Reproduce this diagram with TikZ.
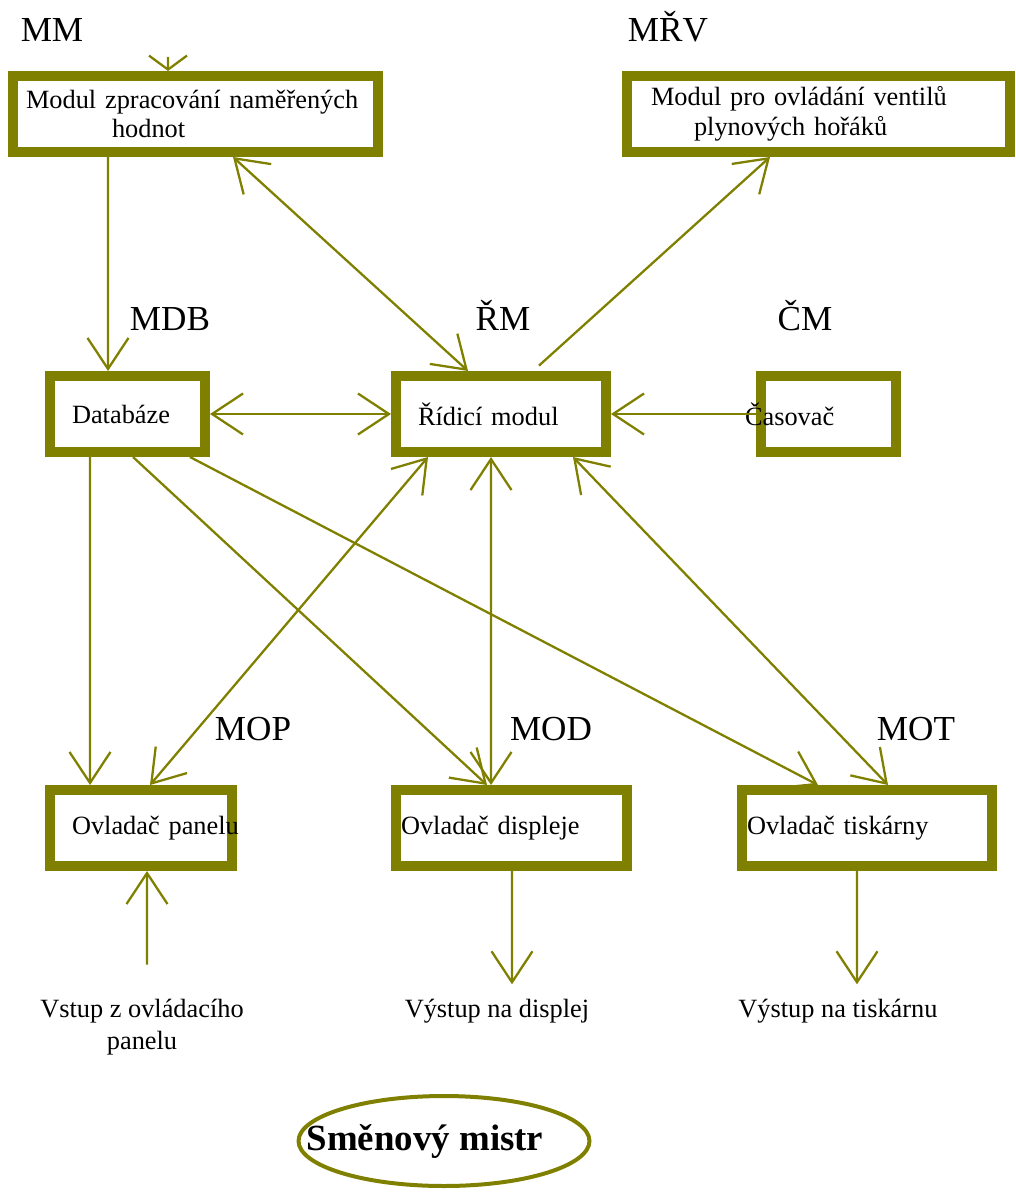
\documentclass[tikz,border=0pt]{standalone}
\usepackage{fontspec}
\setmainfont{Liberation Serif}
\usetikzlibrary{arrows.meta,shapes.geometric}
\definecolor{boxolive}{RGB}{128,128,0}

\begin{document}
\begin{tikzpicture}[x=0.02cm,y=-0.02cm,
  modbox/.style={draw=boxolive,line width=0.2cm,minimum height=1.52cm,align=left,inner ysep=0pt,font=\fontsize{15}{17}\selectfont},
  tag/.style={anchor=base,inner sep=0pt,font=\fontsize{20}{24}\selectfont},
  iotext/.style={anchor=base,align=center,inner sep=0pt,font=\fontsize{15}{18}\selectfont},
  link/.style={draw=boxolive,line width=1.3pt,-{Straight Barb[length=0.62cm,width=0.82cm]}},
  duplex/.style={link,{Straight Barb[length=0.62cm,width=0.82cm]}-{Straight Barb[length=0.62cm,width=0.82cm]}}]
\useasboundingbox (0,0) rectangle (1016,1203);

% modules
\node[modbox,text width=6.78cm,inner xsep=0.26cm] (mm) at (195.5,114) {Modul zpracování naměřených\\\hspace*{1.72cm}hodnot};
\node[modbox,text width=6.7cm,inner xsep=0.48cm] (mrv) at (818.5,114) {Modul pro ovládání ventilů\\\hspace*{0.86cm}plynových hořáků};
\node[modbox,text width=2.22cm,inner xsep=0.44cm] (db) at (127.5,414) {Databáze};
\node[modbox,text width=3.32cm,inner xsep=0.44cm] (rm) at (501,414) {Řídicí modul};
\node[modbox,text width=2.7cm,inner xsep=0pt] (cas) at (828.5,414) {\hspace*{-0.32cm}Časovač};
\node[modbox,text width=2.76cm,inner xsep=0.44cm] (pan) at (141,828) {\mbox{Ovladač panelu}};
\node[modbox,text width=4.42cm,inner xsep=0.1cm] (disp) at (511.5,828) {\mbox{Ovladač displeje}};
\node[modbox,text width=4.8cm,inner xsep=0.1cm] (tisk) at (867,828) {\mbox{Ovladač tiskárny}};

% abbreviations
\node[tag] (t_mm) at (52,42) {MM};
\node[tag] (t_mrv) at (668,42) {MŘV};
\node[tag] (t_db) at (170,330) {MDB};
\node[tag] (t_rm) at (503,330) {ŘM};
\node[tag] (t_cas) at (805,330) {ČM};
\node[tag] (t_pan) at (253,740) {MOP};
\node[tag] (t_disp) at (551,740) {MOD};
\node[tag] (t_tisk) at (916,740) {MOT};

% inputs and outputs
\node[iotext] (inp) at (142,1049) {Vstup z ovládacího\\panelu};
\node[iotext] (outd) at (497,1017) {Výstup na displej};
\node[iotext] (outt) at (838,1017) {Výstup na tiskárnu};
\coordinate (feed) at (168,57);

\node[ellipse,draw=boxolive,line width=0.08cm,minimum width=5.82cm,minimum height=1.8cm,inner sep=0pt,font=\bfseries\fontsize{21}{24}\selectfont] (smm) at (444,1141) {\hspace*{-0.76cm}Směnový mistr};

% connections
\draw[link,-{Straight Barb[length=0.28cm,width=0.76cm]}] (feed) -- ([xshift=-0.55cm]mm.north);
\draw[link] ([xshift=-1.75cm]mm.south) -- ([xshift=-0.39cm]db.north);
\draw[duplex] ([xshift=0.75cm]mm.south) -- ([xshift=-0.66cm]rm.north);
\draw[link,shorten <=0.16cm] ([xshift=0.64cm]rm.north) -- ([xshift=-0.97cm]mrv.south);
\draw[duplex] (db.east) -- (rm.west);
\draw[link,shorten <=-0.16cm] (cas.west) -- (rm.east);
\draw[link] ([xshift=-0.75cm]db.south) -- ([xshift=-1.02cm]pan.north);
\draw[link] ([xshift=0.11cm]db.south) -- ([xshift=-0.49cm]disp.north);
\draw[link] ([xshift=1.25cm]db.south) -- ([xshift=-0.98cm]tisk.north);
\draw[duplex] ([xshift=-1.46cm]rm.south) -- ([xshift=0.18cm]pan.north);
\draw[duplex] ([xshift=-0.2cm]rm.south) -- ([xshift=-0.41cm]disp.north);
\draw[duplex] ([xshift=1.44cm]rm.south) -- ([xshift=0.42cm]tisk.north);
\draw[link,shorten <=0.68cm] ([xshift=0.1cm]inp.north) -- ([xshift=0.12cm]pan.south);
\draw[link,shorten >=0.28cm] ([xshift=0.01cm]disp.south) -- ([xshift=0.3cm]outd.north);
\draw[link,shorten >=0.28cm] ([xshift=-0.2cm]tisk.south) -- ([xshift=0.38cm]outt.north);
\end{tikzpicture}
\end{document}
